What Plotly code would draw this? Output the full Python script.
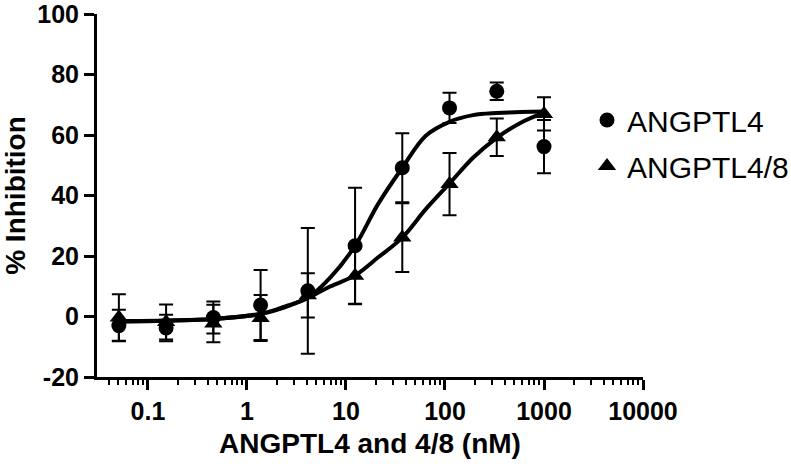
import plotly.graph_objects as go

# ---- data ----
conc = [0.0508, 0.1524, 0.4572, 1.372, 4.115, 12.35, 37.04, 111.1, 333.3, 1000]

angptl4_mean = [-3.0, -3.8, -0.3, 3.8, 8.5, 23.4, 49.2, 69.0, 74.5, 56.2]
angptl4_sd = [5.2, 4.4, 5.3, 11.6, 20.8, 19.2, 11.4, 5.0, 2.9, 8.8]

angptl48_mean = [-0.3, -1.8, -2.3, -0.5, 7.0, 13.5, 26.1, 43.8, 59.3, 67.0]
angptl48_sd = [7.7, 5.8, 6.2, 7.6, 7.3, 9.4, 11.4, 10.3, 6.2, 5.5]

# fitted curves
curve_x = [0.0508, 0.1524, 0.4572, 1.372, 2.4, 4.115, 7.0, 12.35, 21.0, 37.04,
           64.0, 111.1, 192.0, 333.3, 577.0, 1000]
angptl4_fit = [-1.7, -1.4, -0.8, 0.9, 3.3, 6.2, 13.0, 23.4, 37.1, 49.2,
               59.8, 64.4, 66.6, 67.3, 67.6, 67.8]
angptl48_fit = [-1.5, -1.3, -0.8, 0.8, 3.0, 6.2, 10.0, 13.6, 19.5, 26.1,
                35.5, 44.0, 52.5, 59.1, 64.0, 67.4]

x_tickvals = [0.1, 1, 10, 100, 1000, 10000]
x_ticktext = ["0.1", "1", "10", "100", "1000", "10000"]
y_tickvals = [-20, 0, 20, 40, 60, 80, 100]
y_ticktext = ["-20", "0", "20", "40", "60", "80", "100"]

FONT = "Liberation Sans, Arial, Helvetica, sans-serif"

fig = go.Figure()

fig.add_trace(go.Scatter(x=curve_x, y=angptl4_fit, mode="lines",
                         line=dict(color="black", width=4, shape="spline", smoothing=1.0),
                         showlegend=False, hoverinfo="skip"))
fig.add_trace(go.Scatter(x=curve_x, y=angptl48_fit, mode="lines",
                         line=dict(color="black", width=4, shape="spline", smoothing=1.0),
                         showlegend=False, hoverinfo="skip"))

fig.add_trace(go.Scatter(x=conc, y=angptl4_mean, mode="markers", name="ANGPTL4",
                         marker=dict(symbol="circle", size=15, color="black"),
                         error_y=dict(type="data", array=angptl4_sd, visible=True,
                                      color="black", thickness=2, width=7),
                         legend="legend"))
fig.add_trace(go.Scatter(x=conc, y=angptl48_mean, mode="markers", name="ANGPTL4/8",
                         marker=dict(symbol="triangle-up", size=16, color="black"),
                         error_y=dict(type="data", array=angptl48_sd, visible=True,
                                      color="black", thickness=2, width=7),
                         legend="legend2"))

W, H = 791, 468
legend_common = dict(font=dict(family=FONT, size=30, color="black"),
                     bgcolor="rgba(0,0,0,0)", borderwidth=0,
                     xref="container", yref="container", xanchor="left", yanchor="middle",
                     itemwidth=30)

fig.update_layout(
    width=W, height=H,
    margin=dict(l=97, r=148, t=14, b=91, autoexpand=False),
    paper_bgcolor="white", plot_bgcolor="white",
    font=dict(family=FONT, color="black"),
    legend=dict(x=587 / W, y=1 - 120 / H, **legend_common),
    legend2=dict(x=587 / W, y=1 - 166 / H, **legend_common),
    xaxis=dict(
        type="log", range=[-1.515, 4.0],
        tickvals=x_tickvals, ticktext=x_ticktext,
        ticks="outside", ticklen=10, tickwidth=3, tickcolor="black",
        showline=True, linewidth=3, linecolor="black",
        showgrid=False, zeroline=False, ticklabeloverflow="allow",
        tickfont=dict(family=FONT, size=25, color="black", weight="bold"),
        minor=dict(ticks="outside", ticklen=5, tickwidth=2, tickcolor="black",
                   dtick="D1", showgrid=False),
        title=dict(text="ANGPTL4 and 4/8 (nM)", standoff=10,
                   font=dict(family=FONT, size=28, color="black", weight="bold")),
        automargin=False,
    ),
    yaxis=dict(
        range=[-20, 100.05], tickvals=y_tickvals, ticktext=y_ticktext,
        ticks="outside", ticklen=10, tickwidth=3, tickcolor="black",
        showline=True, linewidth=3, linecolor="black",
        showgrid=False, zeroline=False, ticklabeloverflow="allow",
        tickfont=dict(family=FONT, size=25, color="black", weight="bold"),
        title=dict(text="% Inhibition", standoff=14,
                   font=dict(family=FONT, size=28, color="black", weight="bold")),
        automargin=False,
    ),
)

fig.write_html("out.html", config={"displayModeBar": False},
               post_script="document.body.style.margin='0';document.body.style.overflow='hidden';")
